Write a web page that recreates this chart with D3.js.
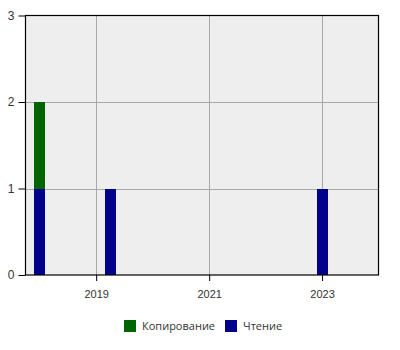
<!DOCTYPE html>
<html>
<head>
<meta charset="utf-8">
<script src="https://cdn.jsdelivr.net/npm/d3@7"></script>
<style>
  body { margin: 0; background: #fff; }
  svg { display: block; font-family: "Open Sans", "Noto Sans", sans-serif; }
  .axis text { font-size: 11px; fill: #333; }
  .grid line { stroke: #a8a8a8; stroke-width: 1; }
  .legend text { font-size: 11px; fill: #333; }
</style>
</head>
<body>
<script>
// Data
const dates = ["2018-01-01", "2019-04-01", "2023-01-01"];
const seriesNames = ["Чтение", "Копирование"];
const readValues = [1, 1, 1];
const copyValues = [1, 0, 0];
const seriesColors = ["#00008b", "#006400"];
const yTicks = [0, 1, 2, 3];
const xTickYears = [2019, 2021, 2023];
const xDomain = ["2017-10-01", "2024-01-01"];

function main(width, height) {
  const margin = { top: 15.5, right: 21.5, bottom: 75, left: 25.5 };
  const parse = d3.utcParse("%Y-%m-%d");
  const svg = d3.select("body").append("svg")
    .attr("width", width).attr("height", height);

  const x = d3.scaleUtc()
    .domain(xDomain.map(parse))
    .range([margin.left, width - margin.right]);
  const y = d3.scaleLinear()
    .domain([0, 3])
    .range([height - margin.bottom, margin.top]);

  const rows = dates.map((d, i) => ({ date: parse(d), "Чтение": readValues[i], "Копирование": copyValues[i] }));
  const stacked = d3.stack().keys(seriesNames)(rows);

  // plot background
  svg.append("rect")
    .attr("x", x.range()[0]).attr("y", y.range()[1])
    .attr("width", x.range()[1] - x.range()[0])
    .attr("height", y.range()[0] - y.range()[1])
    .attr("fill", "#eeeeee");

  // grid
  const xTicks = xTickYears.map(yr => new Date(Date.UTC(yr, 0, 1)));
  svg.append("g").attr("class", "grid")
    .selectAll("line").data(xTicks).join("line")
    .attr("x1", d => Math.round(x(d)) + 0.5).attr("x2", d => Math.round(x(d)) + 0.5)
    .attr("y1", y.range()[1]).attr("y2", y.range()[0]);
  svg.append("g").attr("class", "grid")
    .selectAll("line").data(yTicks.slice(1, -1)).join("line")
    .attr("x1", x.range()[0]).attr("x2", x.range()[1])
    .attr("y1", d => Math.round(y(d)) + 0.5).attr("y2", d => Math.round(y(d)) + 0.5);

  // bars
  const barWidth = 11;
  svg.append("g").selectAll("g").data(stacked).join("g")
    .attr("fill", (d, i) => seriesColors[i])
    .selectAll("rect").data(d => d.filter(p => p[1] > p[0])).join("rect")
    .attr("x", d => Math.round(x(d.data.date) - barWidth / 2))
    .attr("width", barWidth)
    .attr("y", d => Math.round(y(d[1])))
    .attr("height", d => Math.round(y(d[0])) - Math.round(y(d[1])));

  // frame
  svg.append("rect")
    .attr("x", x.range()[0]).attr("y", y.range()[1])
    .attr("width", x.range()[1] - x.range()[0])
    .attr("height", y.range()[0] - y.range()[1])
    .attr("fill", "none").attr("stroke", "#000").attr("stroke-width", 1.2);

  // axes
  svg.append("g").attr("class", "axis")
    .attr("transform", `translate(0,${y.range()[0]})`)
    .call(d3.axisBottom(x).tickValues(xTicks).tickFormat(d3.utcFormat("%Y")).tickSize(6).tickPadding(9))
    .call(g => g.select(".domain").remove())
    .call(g => g.selectAll(".tick line").attr("stroke", "#000"));
  svg.append("g").attr("class", "axis")
    .attr("transform", `translate(${x.range()[0]},0)`)
    .call(d3.axisLeft(y).tickValues(yTicks).tickFormat(d3.format("d")).tickSize(7).tickPadding(4))
    .call(g => g.select(".domain").remove())
    .call(g => g.selectAll(".tick line").attr("stroke", "#000"))
    .call(g => g.selectAll(".tick text").style("font-size", "12px"));

  // legend
  const legend = svg.append("g").attr("class", "legend");
  const legendItems = [
    { name: "Копирование", color: seriesColors[1], x: 124 },
    { name: "Чтение", color: seriesColors[0], x: 225 }
  ];
  const item = legend.selectAll("g").data(legendItems).join("g")
    .attr("transform", d => `translate(${d.x},320)`);
  item.append("rect").attr("width", 12).attr("height", 12).attr("fill", d => d.color);
  item.append("text").attr("x", 18).attr("y", 6).attr("dy", "0.35em").text(d => d.name);
}

main(400, 350);
</script>
</body>
</html>
